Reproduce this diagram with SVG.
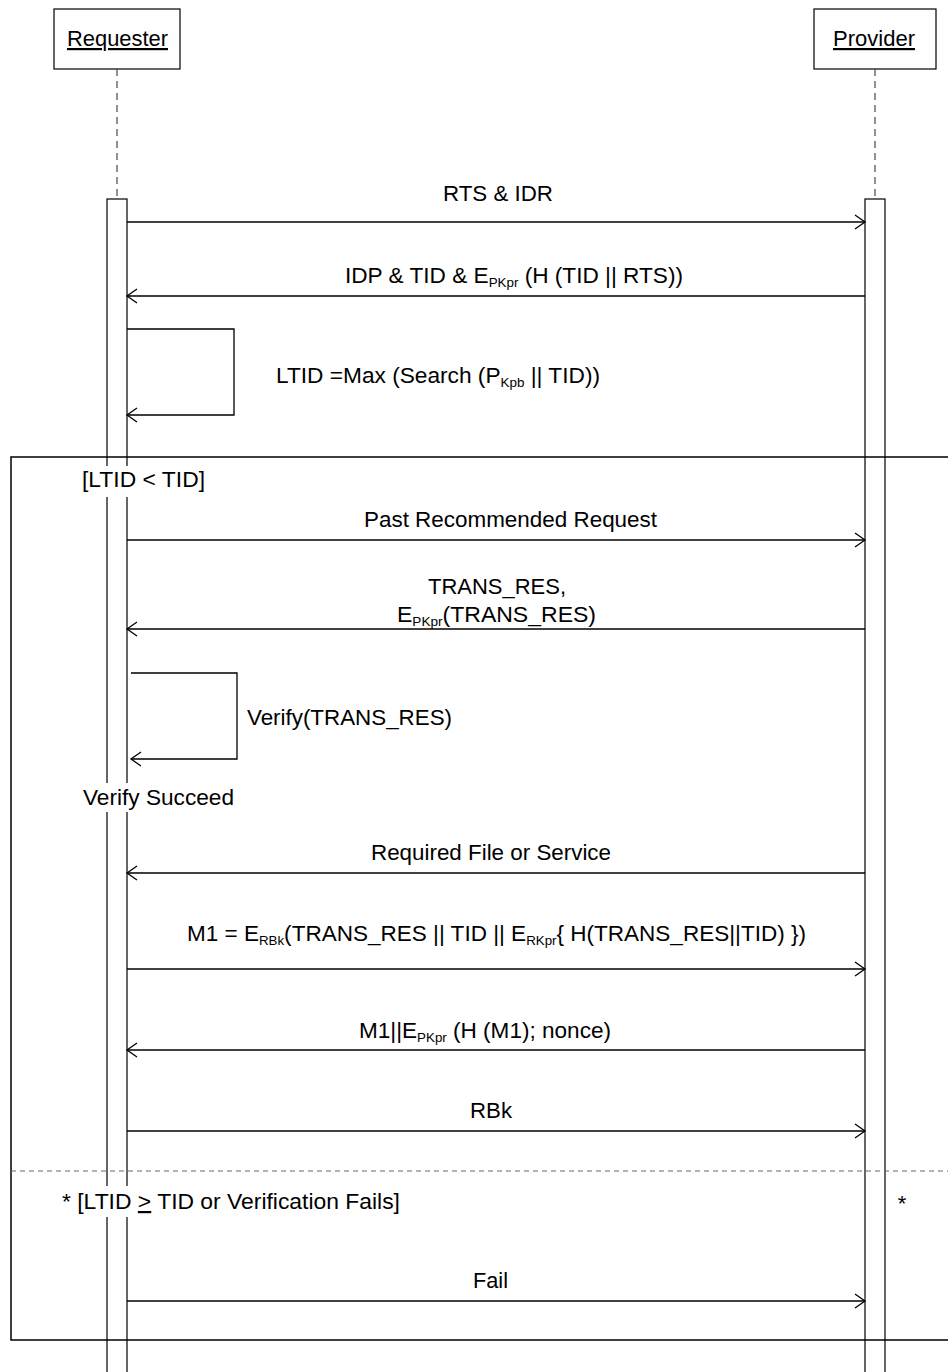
<svg xmlns="http://www.w3.org/2000/svg" width="948" height="1372" viewBox="0 0 948 1372">
<style>
text{font-family:"Liberation Sans",Arial,sans-serif;font-size:22px;fill:#000}
.sub{font-size:13px}
.box{fill:#fff;stroke:#000;stroke-width:1.2}
.life{stroke:#555;stroke-width:1.3;stroke-dasharray:7,5;fill:none}
.bar{fill:#fff;stroke:#000;stroke-width:1.2}
.msg{stroke:#000;stroke-width:1.3;fill:none;marker-end:url(#arr)}
.frame{fill:none;stroke:#000;stroke-width:1.5}
.div{stroke:#666;stroke-width:1;stroke-dasharray:5,4}
.bg{fill:#fff}
</style>
<defs>
<marker id="arr" markerUnits="userSpaceOnUse" markerWidth="24" markerHeight="24" refX="12" refY="12" orient="auto" overflow="visible">
<path d="M2,5 L12,12 L2,19" fill="none" stroke="#000" stroke-width="1.3"/>
</marker>
</defs>
<g id="requester">
<rect class="box" x="54" y="9" width="126" height="60"/>
<text x="67" y="46" textLength="101" lengthAdjust="spacingAndGlyphs" text-decoration="underline">Requester</text>
<line class="life" x1="117" y1="69" x2="117" y2="199"/>
<rect class="bar" x="107" y="199" width="20" height="1200"/>
</g>
<g id="provider">
<rect class="box" x="814" y="9" width="122" height="60"/>
<text x="833" y="46" textLength="82" lengthAdjust="spacingAndGlyphs" text-decoration="underline">Provider</text>
<line class="life" x1="875" y1="69" x2="875" y2="199"/>
<rect class="bar" x="865" y="199" width="20" height="1200"/>
</g>
<g id="frame">
<rect class="frame" x="11" y="457" width="1000" height="883"/>
<line class="div" x1="11" y1="1171" x2="948" y2="1171"/>
<rect class="bg" x="80" y="466" width="128" height="31"/>
<text x="82" y="487" textLength="123" lengthAdjust="spacingAndGlyphs">[LTID &lt; TID]</text>
<rect class="bg" x="80" y="783" width="157" height="29"/>
<text x="83" y="805" textLength="151" lengthAdjust="spacingAndGlyphs">Verify Succeed</text>
<rect class="bg" x="58" y="1186" width="345" height="31"/>
<text x="62" y="1209" textLength="338" lengthAdjust="spacingAndGlyphs">* [LTID <tspan text-decoration="underline">&gt;</tspan> TID or Verification Fails]</text>
<text x="902" y="1211" text-anchor="middle">*</text>
</g>
<g id="connectors">
<line class="msg" x1="127" y1="222" x2="865" y2="222"/>
<text x="443" y="201" textLength="110" lengthAdjust="spacingAndGlyphs">RTS &amp; IDR</text>
<line class="msg" x1="865" y1="296" x2="127" y2="296"/>
<text x="345" y="283" textLength="338" lengthAdjust="spacingAndGlyphs">IDP &amp; TID &amp; E<tspan class="sub" dy="4">PKpr</tspan><tspan dy="-4"> (H (TID || RTS))</tspan></text>
<polyline class="msg" points="127,329 234,329 234,415 127,415"/>
<text x="276" y="383" textLength="324" lengthAdjust="spacingAndGlyphs">LTID =Max (Search (P<tspan class="sub" dy="4">Kpb</tspan><tspan dy="-4"> || TID))</tspan></text>
<line class="msg" x1="127" y1="540" x2="865" y2="540"/>
<text x="364" y="527" textLength="293" lengthAdjust="spacingAndGlyphs">Past Recommended Request</text>
<line class="msg" x1="865" y1="629" x2="127" y2="629"/>
<text x="428" y="594" textLength="138" lengthAdjust="spacingAndGlyphs">TRANS_RES,</text>
<text x="397" y="622" textLength="199" lengthAdjust="spacingAndGlyphs">E<tspan class="sub" dy="4">PKpr</tspan><tspan dy="-4">(TRANS_RES)</tspan></text>
<polyline class="msg" points="131,673 237,673 237,759 131,759"/>
<text x="247" y="725" textLength="205" lengthAdjust="spacingAndGlyphs">Verify(TRANS_RES)</text>
<line class="msg" x1="865" y1="873" x2="127" y2="873"/>
<text x="371" y="860" textLength="240" lengthAdjust="spacingAndGlyphs">Required File or Service</text>
<line class="msg" x1="127" y1="969" x2="865" y2="969"/>
<text x="187" y="941" textLength="619" lengthAdjust="spacingAndGlyphs">M1 = E<tspan class="sub" dy="4">RBk</tspan><tspan dy="-4">(TRANS_RES || TID || E</tspan><tspan class="sub" dy="4">RKpr</tspan><tspan dy="-4">{ H(TRANS_RES||TID) })</tspan></text>
<line class="msg" x1="865" y1="1050" x2="127" y2="1050"/>
<text x="359" y="1038" textLength="252" lengthAdjust="spacingAndGlyphs">M1||E<tspan class="sub" dy="4">PKpr</tspan><tspan dy="-4"> (H (M1); nonce)</tspan></text>
<line class="msg" x1="127" y1="1131" x2="865" y2="1131"/>
<text x="470" y="1118" textLength="42" lengthAdjust="spacingAndGlyphs">RBk</text>
<line class="msg" x1="127" y1="1301" x2="865" y2="1301"/>
<text x="473" y="1288" textLength="35" lengthAdjust="spacingAndGlyphs">Fail</text>
</g>
</svg>
